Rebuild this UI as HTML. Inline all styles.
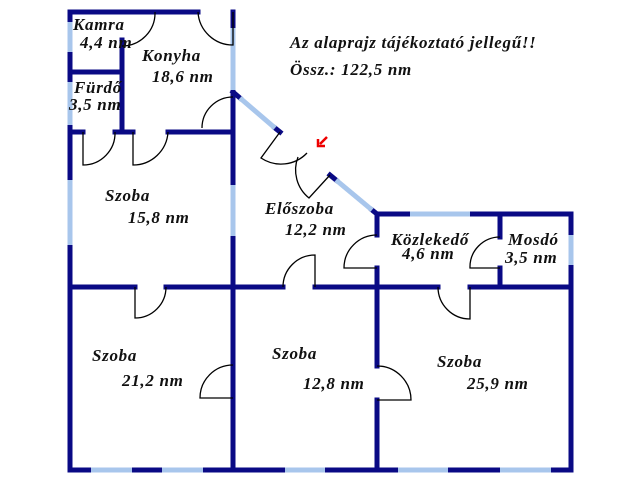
<!DOCTYPE html>
<html><head><meta charset="utf-8"><style>
html,body{margin:0;padding:0;background:#fff;}
svg{display:block}
text{font-family:"Liberation Serif",serif;font-style:italic;font-weight:bold;font-size:17px;letter-spacing:0.7px;fill:#111;}
</style></head><body>
<svg width="640" height="480" viewBox="0 0 640 480" xmlns="http://www.w3.org/2000/svg">
<g stroke="#0a0a85" stroke-width="5" fill="none" stroke-linecap="square">
<line x1="70" y1="12" x2="70" y2="470"/>
<line x1="70" y1="12" x2="198" y2="12"/>
<line x1="233" y1="12" x2="233" y2="470"/>
<line x1="70" y1="72" x2="122" y2="72"/>
<line x1="122" y1="40" x2="122" y2="132"/>
<line x1="70" y1="132" x2="83" y2="132"/>
<line x1="115" y1="132" x2="133" y2="132"/>
<line x1="168" y1="132" x2="233" y2="132"/>
<line x1="70" y1="287" x2="135" y2="287"/>
<line x1="166" y1="287" x2="283" y2="287"/>
<line x1="315" y1="287" x2="438" y2="287"/>
<line x1="470" y1="287" x2="571" y2="287"/>
<line x1="377" y1="214" x2="377" y2="235"/>
<line x1="377" y1="268" x2="377" y2="366"/>
<line x1="377" y1="400" x2="377" y2="470"/>
<line x1="500" y1="214" x2="500" y2="237"/>
<line x1="500" y1="268" x2="500" y2="287"/>
<line x1="571" y1="214" x2="571" y2="470"/>
<line x1="377" y1="214" x2="571" y2="214"/>
<line x1="70" y1="470" x2="571" y2="470"/>
<line x1="233" y1="92" x2="240" y2="98"/>
<line x1="275" y1="128" x2="280" y2="132"/>
<line x1="330" y1="175" x2="336" y2="180"/>
<line x1="372" y1="210" x2="377" y2="214"/>
</g>
<g stroke="#a8c6ec" stroke-width="5" fill="none">
<line x1="70" y1="22" x2="70" y2="52"/>
<line x1="70" y1="82" x2="70" y2="125"/>
<line x1="70" y1="180" x2="70" y2="245"/>
<line x1="233" y1="28" x2="233" y2="90"/>
<line x1="233" y1="185" x2="233" y2="236"/>
<line x1="240" y1="98" x2="275" y2="128"/>
<line x1="336" y1="180" x2="372" y2="210"/>
<line x1="410" y1="214" x2="470" y2="214"/>
<line x1="571" y1="235" x2="571" y2="265"/>
<line x1="91" y1="470" x2="132" y2="470"/>
<line x1="162" y1="470" x2="203" y2="470"/>
<line x1="285" y1="470" x2="325" y2="470"/>
<line x1="398" y1="470" x2="448" y2="470"/>
<line x1="500" y1="470" x2="551" y2="470"/>
</g>
<g stroke="#000" stroke-width="1.3" fill="none">
<path d="M122,46 A33,33 0 0 0 155,12"/>
<path d="M198,12 A35,35 0 0 0 233,45 L233,12"/>
<path d="M202,128 A31,31 0 0 1 233,97"/>
<path d="M280,132 L261,158 A36,36 0 0 0 307,153"/>
<path d="M298,157 A36,36 0 0 0 309,198 L330,175"/>
<path d="M83,132 L83,165 A32,32 0 0 0 115,132"/>
<path d="M133,132 L133,165 A35,35 0 0 0 168,132"/>
<path d="M135,287 L135,318 A31,31 0 0 0 166,287"/>
<path d="M283,287 A32,32 0 0 1 315,255 L315,287"/>
<path d="M233,398 L200,398 A33,33 0 0 1 233,365"/>
<path d="M377,366 A34,34 0 0 1 411,400 L377,400"/>
<path d="M377,235 A33,33 0 0 0 344,268 L377,268"/>
<path d="M500,237 A30,30 0 0 0 470,268 L500,268"/>
<path d="M438,287 A32,32 0 0 0 470,319 L470,287"/>
</g>
<path d="M327,137 L320,144 M318,139 L318,146 L325,146" stroke="#e00" stroke-width="2.5" fill="none"/>
<text x="73" y="30">Kamra</text>
<text x="80" y="48">4,4 nm</text>
<text x="142" y="61">Konyha</text>
<text x="152" y="82">18,6 nm</text>
<text x="74" y="93">Fürdő</text>
<text x="69" y="110">3,5 nm</text>
<text x="105" y="201">Szoba</text>
<text x="128" y="223">15,8 nm</text>
<text x="265" y="214">Előszoba</text>
<text x="285" y="235">12,2 nm</text>
<text x="391" y="245">Közlekedő</text>
<text x="402" y="259">4,6 nm</text>
<text x="508" y="245">Mosdó</text>
<text x="505" y="263">3,5 nm</text>
<text x="92" y="361">Szoba</text>
<text x="122" y="386">21,2 nm</text>
<text x="272" y="359">Szoba</text>
<text x="303" y="389">12,8 nm</text>
<text x="437" y="367">Szoba</text>
<text x="467" y="389">25,9 nm</text>
<text x="290" y="48">Az alaprajz tájékoztató jellegű!!</text>
<text x="290" y="75">Össz.: 122,5 nm</text>
</svg>
</body></html>
